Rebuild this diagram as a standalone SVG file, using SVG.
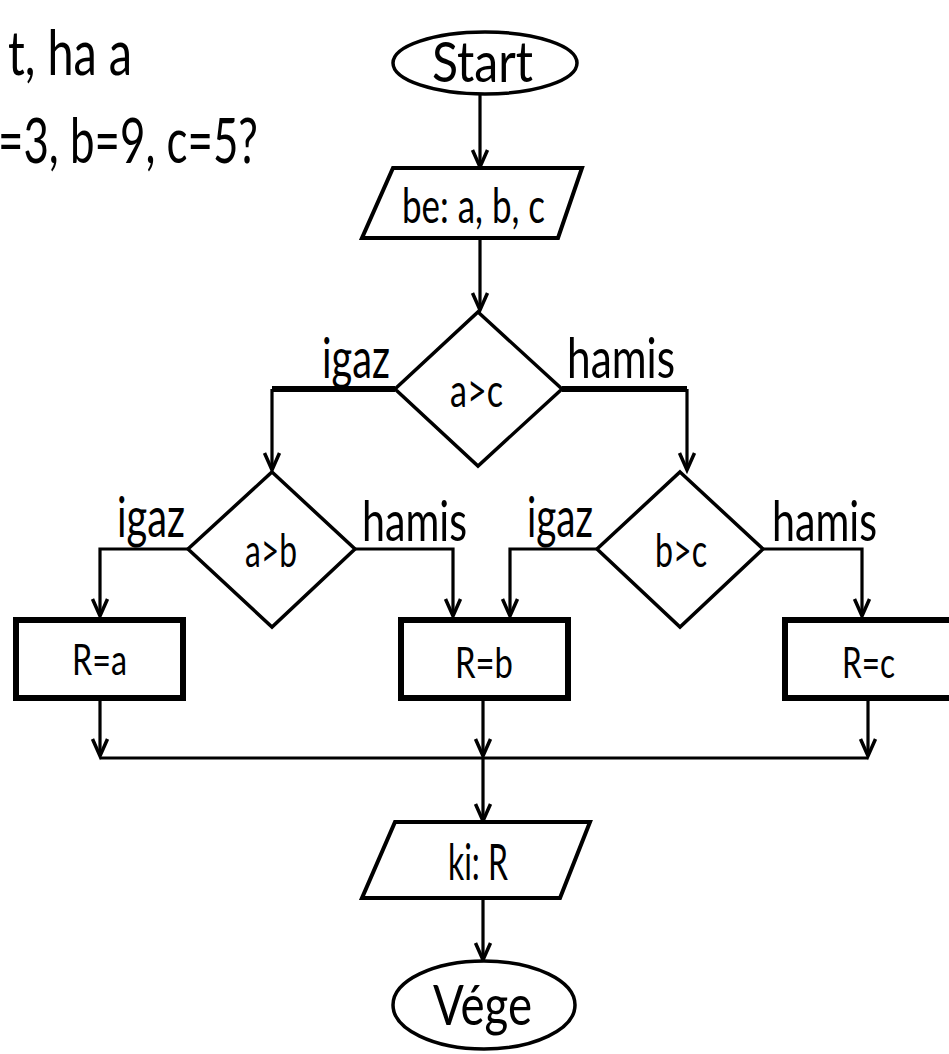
<svg xmlns="http://www.w3.org/2000/svg" width="949" height="1054" viewBox="0 0 949 1054">
<style>
text{font-family:Lato,"Liberation Sans",sans-serif;fill:#000}
.n{fill:#fff;stroke:#000}
.el{stroke-width:3.5}
.pg{stroke-width:4}
.dm{stroke-width:3.5}
.bx{stroke-width:6}
.c{fill:none;stroke:#000;stroke-width:3.2}
.th{fill:none;stroke:#000;stroke-width:6}
</style>
<defs>
<marker id="ah" viewBox="-18 -10 20 20" refX="0" refY="0" markerWidth="20" markerHeight="20" markerUnits="userSpaceOnUse" orient="auto" overflow="visible">
<path d="M-17,-7.5 L0,0 L-17,7.5" fill="none" stroke="#000" stroke-width="3.5"/>
</marker>
</defs>
<rect width="949" height="1054" fill="#fff"/>
<g id="question">
<text x="8" y="75" font-size="62" textLength="124" lengthAdjust="spacingAndGlyphs">t, ha a</text>
<text x="-2" y="163" font-size="62" textLength="260" lengthAdjust="spacingAndGlyphs">=3, b=9, c=5?</text>
</g>
<g id="connectors">
<line class="c" x1="480" y1="95" x2="480" y2="167" marker-end="url(#ah)"/>
<line class="c" x1="480" y1="238" x2="480" y2="310" marker-end="url(#ah)"/>
<polyline class="th" points="395,389 272,389"/>
<polyline class="c" points="272,389 272,470" marker-end="url(#ah)"/>
<polyline class="th" points="562,389 687,389"/>
<polyline class="c" points="687,389 687,470" marker-end="url(#ah)"/>
<polyline class="c" points="188,549 100,549 100,616" marker-end="url(#ah)"/>
<polyline class="c" points="355,549 453,549 453,616" marker-end="url(#ah)"/>
<polyline class="c" points="597,549 510,549 510,616" marker-end="url(#ah)"/>
<polyline class="c" points="763,549 862,549 862,616" marker-end="url(#ah)"/>
<line class="c" x1="100" y1="700" x2="100" y2="756" marker-end="url(#ah)"/>
<line class="c" x1="483" y1="700" x2="483" y2="756" marker-end="url(#ah)"/>
<line class="c" x1="868" y1="700" x2="868" y2="756" marker-end="url(#ah)"/>
<line class="c" x1="100" y1="758" x2="868" y2="758"/>
<line class="c" x1="483" y1="758" x2="483" y2="821" marker-end="url(#ah)"/>
<line class="c" x1="483" y1="898" x2="483" y2="960" marker-end="url(#ah)"/>
<text x="322" y="378" font-size="56" textLength="68" lengthAdjust="spacingAndGlyphs">igaz</text>
<text x="567" y="378" font-size="56" textLength="108" lengthAdjust="spacingAndGlyphs">hamis</text>
<text x="117" y="537" font-size="56" textLength="68" lengthAdjust="spacingAndGlyphs">igaz</text>
<text x="362" y="541" font-size="56" textLength="105" lengthAdjust="spacingAndGlyphs">hamis</text>
<text x="527" y="537" font-size="56" textLength="66" lengthAdjust="spacingAndGlyphs">igaz</text>
<text x="772" y="541" font-size="56" textLength="105" lengthAdjust="spacingAndGlyphs">hamis</text>
</g>
<g id="start">
<ellipse class="n el" cx="485" cy="63" rx="92" ry="31"/>
<text x="432" y="82" font-size="56" textLength="101" lengthAdjust="spacingAndGlyphs">Start</text>
</g>
<g id="input">
<polygon class="n pg" points="393,168 582,168 558,238 362,238"/>
<text x="402" y="223" font-size="48" textLength="143" lengthAdjust="spacingAndGlyphs">be: a, b, c</text>
</g>
<g id="d_ac">
<polygon class="n dm" points="478,312 562,389 478,466 395,389"/>
<text x="450" y="407" font-size="46" textLength="53" lengthAdjust="spacingAndGlyphs">a&gt;c</text>
</g>
<g id="d_ab">
<polygon class="n dm" points="272,472 355,549 272,627 188,549"/>
<text x="245" y="567" font-size="46" textLength="52" lengthAdjust="spacingAndGlyphs">a&gt;b</text>
</g>
<g id="d_bc">
<polygon class="n dm" points="680,472 763,549 680,627 597,549"/>
<text x="655" y="567" font-size="46" textLength="52" lengthAdjust="spacingAndGlyphs">b&gt;c</text>
</g>
<g id="r_a">
<rect class="n bx" x="16" y="620" width="167" height="78"/>
<text x="72" y="675" font-size="42" textLength="55" lengthAdjust="spacingAndGlyphs">R=a</text>
</g>
<g id="r_b">
<rect class="n bx" x="401" y="620" width="167" height="78"/>
<text x="455" y="678" font-size="42" textLength="58" lengthAdjust="spacingAndGlyphs">R=b</text>
</g>
<g id="r_c">
<rect class="n bx" x="785" y="620" width="180" height="78"/>
<text x="842" y="678" font-size="42" textLength="53" lengthAdjust="spacingAndGlyphs">R=c</text>
</g>
<g id="output">
<polygon class="n pg" points="395,822 590,822 560,898 362,898"/>
<text x="448" y="880" font-size="50" textLength="60" lengthAdjust="spacingAndGlyphs">ki: R</text>
</g>
<g id="end">
<ellipse class="n el" cx="484" cy="1005" rx="91" ry="44"/>
<text x="433" y="1025" font-size="56" textLength="99" lengthAdjust="spacingAndGlyphs">Vége</text>
</g>
</svg>
